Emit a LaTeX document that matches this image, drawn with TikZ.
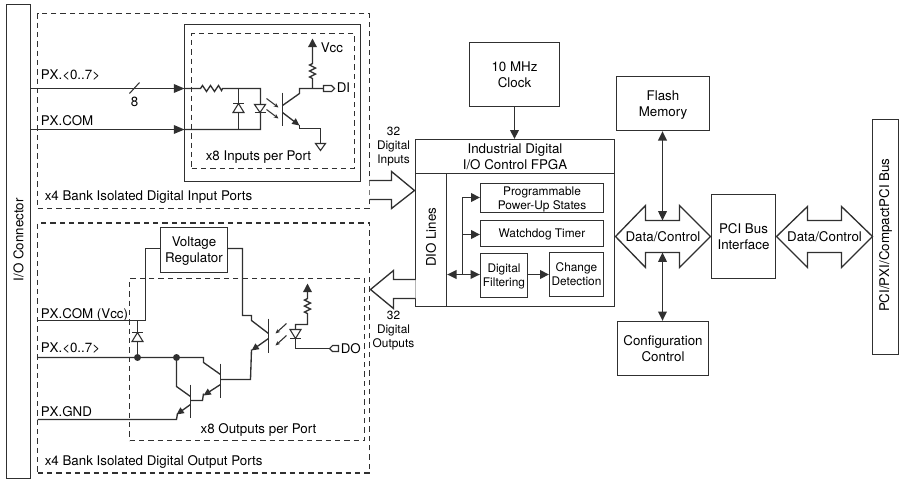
\documentclass[tikz,border=0pt]{standalone}
\usepackage{fontspec}
\setmainfont{TeX Gyre Heros}
\usetikzlibrary{arrows.meta}
\definecolor{ink}{HTML}{303030}
\newcommand{\fntA}{\fontsize{10}{12}\selectfont}
\newcommand{\fntB}{\fontsize{8.9}{10.5}\selectfont}
% \pxbox[font style]{name}{x1}{y1}{x2}{y2}{text}
\newcommand{\pxbox}[7][fa]{%
  \pgfmathsetmacro{\bw}{(#5-#3)*0.75}%
  \pgfmathsetmacro{\bh}{(#6-#4)*0.75}%
  \node[wbox,#1,minimum width=\bw pt,minimum height=\bh pt] (#2) at ({(#3+#5)/2},{(#4+#6)/2})
    {\raisebox{-1pt}[\height][\depth]{\begin{tabular}{@{}c@{}}#7\end{tabular}}};}
\newcommand{\hres}{ -- ++(2,-3) -- ++(4,6) -- ++(4,-6) -- ++(4,6) -- ++(4,-6) -- ++(3,5) -- ++(1,-2) }
\newcommand{\vres}{ -- ++(-3,-1.5) -- ++(6,-3) -- ++(-6,-3) -- ++(6,-3) -- ++(-6,-3) -- ++(3,-1.5) }
\tikzset{
  x=0.75pt,y=-0.75pt,
  fa/.style={font=\fntA},
  fb/.style={font=\fntB},
  wire/.style={draw=ink,line width=1pt,line join=miter},
  thin wire/.style={draw=ink,line width=0.8pt},
  wbox/.style={draw=ink,line width=1pt,fill=white,inner sep=0pt,align=center,text=black},
  dbox/.style={draw=ink,line width=0.8pt,dash pattern=on 4pt off 3pt},
  arr/.style={wire,-{Triangle[length=6.5pt,width=6.5pt]}},
  barr/.style={wire,{Triangle[length=7pt,width=6.5pt]}-{Triangle[length=7pt,width=6.5pt]}},
  bigarr/.style={wire,-{Triangle[length=8pt,width=6.5pt]}},
  small/.style={wire,-{Triangle[length=5.5pt,width=5pt]}},
  light/.style={thin wire,-{Stealth[length=3.5pt,width=3pt]}},
  sym/.style={draw=ink,line width=0.8pt,fill=white,line join=miter},
  lbl/.style={text=black,inner sep=0pt,font=\fntA},
  lbll/.style={lbl,anchor=west},
  lblc/.style={lbl,align=center,font=\fntB},
  dot/.style={circle,fill=ink,inner sep=0pt,minimum size=5.2pt},
}
\begin{document}
\begin{tikzpicture}
\useasboundingbox (0,0) rectangle (899,479);
\begin{scope}[shift={(0.5,0.5)}]
% --- tall bus bars
\pxbox{io}{6}{4}{30}{478}{\raisebox{1pt}{\rotatebox{90}{I/O Connector}}}
\pxbox{bus}{872}{119}{898}{354}{\raisebox{1pt}{\rotatebox{90}{PCI/PXI/CompactPCI Bus}}}
% --- dashed outer groups
\node[dbox,minimum width=249pt,minimum height=146.2pt,inner sep=0pt] (ingroup) at (203,110.5) {};
\node[dbox,minimum width=249pt,minimum height=187.5pt,inner sep=0pt] (outgroup) at (203,347.5) {};
\node[lbll] (intitle) at (44,197) {x4 Bank Isolated Digital Input Ports};
\node[lbll] (outtitle) at (44,461) {x4 Bank Isolated Digital Output Ports};
% --- input port
\pxbox{inbox}{184}{24}{360}{181}{}
\node[dbox,minimum width=122pt,minimum height=101.2pt,inner sep=0pt] (indash) at (272.5,100.5) {};
\node[lbl] (inports) at (258,157) {x8 Inputs per Port};
\node[lbll] (pxin) at (40,75) {PX.<0..7>};
\node[lbll] (pxcomin) at (40,120) {PX.COM};
\node[lbl] (eight) at (134,101) {8};
\coordinate (a1) at (30,88);
\coordinate (a2) at (184,88);
\coordinate (b1) at (30,129);
\coordinate (b2) at (184,129);
\draw[bigarr] (a1) -- (a2);
\draw[bigarr] (b1) -- (b2);
\draw[thin wire] (129,93) -- (139,82);
\draw[wire] (a2) -- (200,88) \hres -- (260,88) -- (260,129) -- (b2);
\draw[wire] (238,88) -- (238,129);
\draw[sym] (238,103) -- (232.5,112) -- (243.5,112) -- cycle;
\draw[wire] (232.5,103) -- (243.5,103);
\draw[sym] (259.5,112) -- (254,104) -- (265,104) -- cycle;
\draw[wire] (254,112) -- (265,112);
\draw[light] (266,98) -- (278,107);
\draw[light] (266,109) -- (278,118);
\draw[wire] (282,92) -- (282,125);
\draw[wire] (282,105) -- (299,93) -- (299,88) -- (323,88);
\draw[small] (282,112) -- (299,125);
\draw[wire] (299,124) -- (299,128) -- (320,128) -- (320,143);
\draw[sym] (315,143) -- (325,143) -- (320,150) -- cycle;
\coordinate (vccpt) at (312,38);
\draw[wire] (312,88) -- (312,78) \vres -- (312,46);
\draw[arr] (312,50) -- (vccpt);
\node[lbll] (vcc) at (320,47) {Vcc};
\draw[sym] (323,85) -- (331,85) -- (334,88) -- (331,91) -- (323,91) -- cycle;
\node[lbll] (di) at (336,87) {DI};
% --- output port
\pxbox{reg}{160}{227}{227}{272}{Voltage\\Regulator}
\node[dbox,minimum width=176pt,minimum height=121.5pt,inner sep=0pt] (outdash) at (246.5,359) {};
\node[lbl] (outports) at (258,429) {x8 Outputs per Port};
\node[lbll] (pxcomout) at (40,314) {PX.COM (Vcc)};
\node[lbll] (pxout) at (40,348) {PX.<0..7>};
\node[lbll] (pxgnd) at (40,411) {PX.GND};
\draw[wire] (37,320) -- (145,320) -- (145,248) -- (reg.west |- 0,248);
\draw[wire] (reg.east |- 0,248) -- (242,248) -- (242,315) -- (251,315) -- (251,320) -- (268,333);
\draw[wire] (137,320) -- (137,357);
\draw[sym] (137,332) -- (131.5,341) -- (142.5,341) -- cycle;
\draw[wire] (131.5,332) -- (142.5,332);
\draw[wire] (37,357) -- (203,357) -- (203,362) -- (220,374);
\node[dot] (d1) at (137,357) {};
\node[dot] (d2) at (176,357) {};
\draw[wire] (d2) -- (176,386) -- (190,396);
\draw[wire] (268,318) -- (268,352);
\draw[small] (268,338) -- (251,350);
\draw[wire] (251,349) -- (250,379) -- (220,379);
\draw[wire] (220,363) -- (220,397);
\draw[small] (220,384) -- (203,395);
\draw[wire] (203,393) -- (202,400) -- (190,400);
\draw[wire] (190,384) -- (190,417);
\draw[small] (190,404) -- (176,414);
\draw[wire] (177,413) -- (176,419) -- (37,419);
\draw[sym] (295,338) -- (289.5,329) -- (300.5,329) -- cycle;
\draw[wire] (289.5,338) -- (300.5,338);
\draw[wire] (295,329) -- (295,324) -- (307,324) -- (307,313) \vres -- (307,291);
\draw[arr] (307,295) -- (307,283);
\draw[wire] (295,338) -- (295,348) -- (329,348);
\draw[sym] (338,345) -- (332,345) -- (329,348) -- (332,351) -- (338,351) -- cycle;
\node[lbll] (do) at (340,348) {DO};
\draw[light] (286,323) -- (275,333);
\draw[light] (286,335) -- (275,345);
% --- FPGA
\pxbox{fpga}{415}{139}{614}{306}{}
\pxbox{title}{415}{139}{614}{173}{Industrial Digital\\I/O Control FPGA}
\pxbox{dio}{415}{173}{446}{306}{\raisebox{2.5pt}{\rotatebox{90}{DIO Lines}}}
\pxbox[fb]{prog}{480}{183}{603}{212}{Programmable\\Power-Up States}
\pxbox[fb]{wd}{480}{220}{603}{246}{Watchdog Timer}
\pxbox[fb]{filt}{480}{253}{527}{297}{Digital\\Filtering}
\pxbox[fb]{chg}{549}{252}{603}{296}{Change\\Detection}
\draw[barr] (dio.east |- 0,274) -- (filt.west |- 0,274);
\draw[arr] (462,274) -- (462,197) -- (prog.west |- 0,197);
\draw[arr] (462,234) -- (wd.west |- 0,234);
\draw[arr] (filt.east |- 0,274) -- (chg.west |- 0,274);
% --- big I/O arrows
\draw[wire,fill=white] (369,180) -- (391,180) -- (391,171) -- (414,190) -- (391,208) -- (391,199) -- (369,199);
\draw[wire,fill=white] (415,279) -- (393,279) -- (393,270) -- (370,289) -- (393,308) -- (393,298) -- (415,298);
\node[lblc] (inlab) at (393,146) {32\\Digital\\Inputs};
\node[lblc] (outlab) at (393,330) {32\\Digital\\Outputs};
% --- clock and right part
\pxbox{clk}{469}{42}{559}{106}{10 MHz\\Clock}
\draw[arr] (clk.south) -- (clk.south |- fpga.north);
\pxbox{flash}{616}{76}{709}{130}{Flash\\Memory}
\pxbox{cfg}{617}{321}{708}{375}{Configuration\\Control}
\pxbox{pci}{711}{194}{775}{278}{PCI Bus\\Interface}
\draw[wire,fill=white] (615,236) -- (645,205) -- (645,220) -- (679,220) -- (679,205) -- (710,236) -- (679,267) -- (679,252) -- (645,252) -- (645,267) -- cycle;
\draw[wire,fill=white] (776,236) -- (807,206) -- (807,220) -- (841,220) -- (841,206) -- (872,236) -- (841,267) -- (841,252) -- (807,252) -- (807,267) -- cycle;
\node[lbl] (dc1) at (662.5,236) {Data/Control};
\node[lbl] (dc2) at (824,236) {Data/Control};
\coordinate (dc1t) at (662,220);
\coordinate (dc1b) at (662,252);
\draw[barr] (flash.south -| dc1t) -- (dc1t);
\draw[barr] (cfg.north -| dc1b) -- (dc1b);
\end{scope}
\end{tikzpicture}
\end{document}
